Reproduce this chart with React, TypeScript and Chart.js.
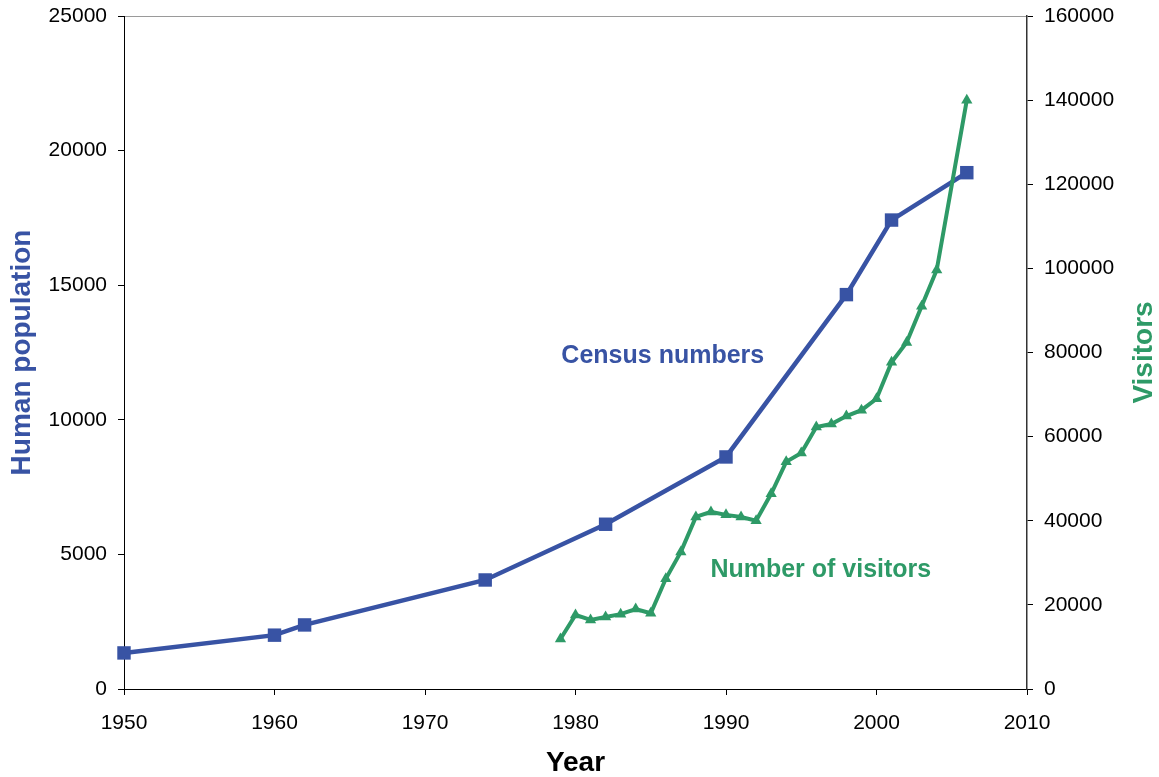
import React, { useEffect, useRef } from "react";
import { Chart, registerables } from "chart.js";

Chart.register(...registerables);

// ---- Data ----
const censusYears = [1950, 1960, 1962, 1974, 1982, 1990, 1998, 2001, 2006];
const censusPopulation = [1340, 2000, 2380, 4050, 6120, 8620, 14650, 17420, 19180];

const visitorYears = [
  1979, 1980, 1981, 1982, 1983, 1984, 1985, 1986, 1987, 1988, 1989, 1990, 1991,
  1992, 1993, 1994, 1995, 1996, 1997, 1998, 1999, 2000, 2001, 2002, 2003, 2004, 2006,
];
const visitorCounts = [
  11900, 17600, 16400, 17100, 17800, 19000, 18000, 26200, 32600, 40900, 42100,
  41400, 40900, 40000, 46400, 54000, 56100, 62300, 63000, 64900, 66300, 69000,
  77700, 82400, 91000, 99600, 140000,
];

const xTicks = { min: 1950, max: 2010, step: 10 };
const leftTicks = { min: 0, max: 25000, step: 5000 };
const rightTicks = { min: 0, max: 160000, step: 20000 };

const xTitle = "Year";
const leftTitle = "Human population";
const rightTitle = "Visitors";

const annotations = [
  { text: "Census numbers", x: 1985.8, y: 12370, axis: "y", series: 0 },
  { text: "Number of visitors", x: 1996.3, y: 28300, axis: "y2", series: 1 },
];

// ---- Styles ----
const BLUE = "#3853A4";
const GREEN = "#2E9A67";
const FONT = "'Liberation Sans', Arial, Helvetica, sans-serif";
const seriesColors = [BLUE, GREEN];

const textPlugin = {
  id: "customText",
  afterDraw(chart: any) {
    const ctx = chart.ctx;
    ctx.save();
    ctx.font = `bold 25px ${FONT}`;
    ctx.textAlign = "center";
    ctx.textBaseline = "middle";
    for (const a of annotations) {
      const px = chart.scales.x.getPixelForValue(a.x);
      const py = chart.scales[a.axis].getPixelForValue(a.y);
      ctx.fillStyle = seriesColors[a.series];
      ctx.fillText(a.text, px, py);
    }
    // right axis title, reading bottom to top
    const s = chart.scales.y2;
    const ca = chart.chartArea;
    ctx.font = `bold 28px ${FONT}`;
    ctx.fillStyle = GREEN;
    ctx.translate(s.right - 15, (ca.top + ca.bottom) / 2);
    ctx.rotate(-Math.PI / 2);
    ctx.fillText(rightTitle, 0, 0);
    ctx.restore();
  },
};

export default function App() {
  const ref = useRef<HTMLCanvasElement | null>(null);

  useEffect(() => {
    if (!ref.current) return;
    const tickFont = { family: FONT, size: 21 };
    const chart = new Chart(ref.current, {
      type: "line",
      data: {
        datasets: [
          {
            label: "Census numbers",
            data: censusYears.map((x, i) => ({ x, y: censusPopulation[i] })),
            yAxisID: "y",
            borderColor: BLUE,
            backgroundColor: BLUE,
            borderWidth: 4.5,
            pointStyle: "rect",
            pointRadius: 9.5,
            pointBorderWidth: 0,
            tension: 0,
            clip: 12,
            order: 1,
          },
          {
            label: "Number of visitors",
            data: visitorYears.map((x, i) => ({ x, y: visitorCounts[i] })),
            yAxisID: "y2",
            borderColor: GREEN,
            backgroundColor: GREEN,
            borderWidth: 4,
            pointStyle: "triangle",
            pointRadius: 6.5,
            pointBorderWidth: 0,
            tension: 0,
            order: 0,
          },
        ],
      },
      options: {
        animation: false,
        responsive: true,
        maintainAspectRatio: false,
        layout: { padding: { top: 16, left: 0, right: 0, bottom: 0 } },
        plugins: {
          legend: { display: false },
          tooltip: { enabled: false },
        },
        scales: {
          x: {
            type: "linear",
            position: "bottom",
            min: xTicks.min,
            max: xTicks.max,
            afterFit: (s: any) => {
              s.height = 88;
            },
            ticks: {
              stepSize: xTicks.step,
              color: "#000",
              font: tickFont,
              padding: 16,
              maxRotation: 0,
              callback: (v: any) => String(v),
            },
            grid: {
              display: true,
              drawOnChartArea: false,
              drawTicks: true,
              tickLength: 6,
              tickColor: "#000",
            },
            border: { display: true, color: "#000", width: 1 },
            title: {
              display: true,
              text: xTitle,
              color: "#000",
              font: { family: FONT, size: 28, weight: "bold", lineHeight: 1 },
              padding: { top: 0, bottom: 0 },
            },
          },
          x2: {
            type: "linear",
            position: "top",
            min: xTicks.min,
            max: xTicks.max,
            afterFit: (s: any) => {
              s.height = 0;
            },
            ticks: { display: false },
            grid: { display: false, drawTicks: false },
            border: { display: true, color: "#9a9a9a", width: 1 },
          },
          y: {
            type: "linear",
            position: "left",
            min: leftTicks.min,
            max: leftTicks.max,
            afterFit: (s: any) => {
              s.width = 124;
              s.paddingTop = 0;
              s.paddingBottom = 0;
            },
            ticks: {
              stepSize: leftTicks.step,
              color: "#000",
              font: tickFont,
              padding: 11,
              callback: (v: any) => String(v),
            },
            grid: {
              display: true,
              drawOnChartArea: false,
              drawTicks: true,
              tickLength: 6,
              tickColor: "#000",
            },
            border: { display: true, color: "#000", width: 1 },
            title: {
              display: true,
              text: leftTitle,
              color: BLUE,
              font: { family: FONT, size: 28, weight: "bold", lineHeight: 1 },
              padding: { top: 8, bottom: 0 },
            },
          },
          y2: {
            type: "linear",
            position: "right",
            min: rightTicks.min,
            max: rightTicks.max,
            afterFit: (s: any) => {
              s.width = 132;
              s.paddingTop = 0;
              s.paddingBottom = 0;
            },
            ticks: {
              stepSize: rightTicks.step,
              color: "#000",
              font: tickFont,
              padding: 11,
              callback: (v: any) => String(v),
            },
            grid: {
              display: true,
              drawOnChartArea: false,
              drawTicks: true,
              tickLength: 6,
              tickColor: "#000",
            },
            border: { display: true, color: "#333", width: 1.5 },
            title: { display: false },
          },
        },
      },
      plugins: [textPlugin],
    });
    return () => chart.destroy();
  }, []);

  return (
    <div
      style={{
        position: "absolute",
        left: 0,
        top: 0,
        width: 1159,
        height: 777,
        background: "#fff",
      }}
    >
      <canvas ref={ref} />
    </div>
  );
}
